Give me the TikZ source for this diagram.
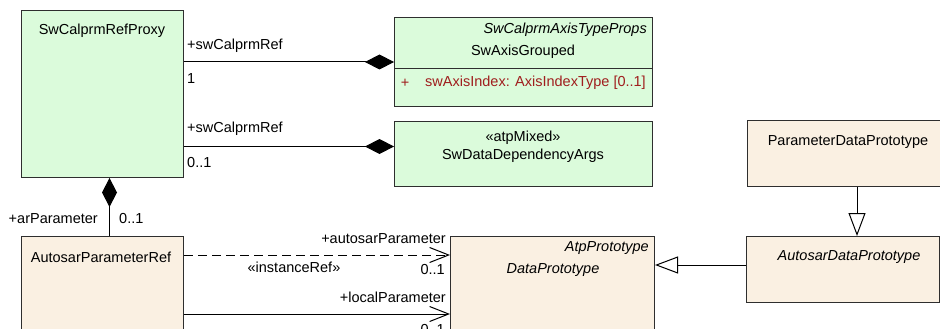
\documentclass[tikz,border=0pt]{standalone}
\usepackage{fontspec}
\setmainfont{Liberation Sans}
\usepackage{xcolor}
\definecolor{umlgreen}{HTML}{DBFBDB}
\definecolor{umlbeige}{HTML}{FAF0E2}
\definecolor{umlline}{HTML}{2E2E2E}
\definecolor{umlred}{HTML}{A01E1E}
\usepackage{tikz}
\usetikzlibrary{arrows.meta, positioning, calc}

\tikzset{
  umlbox/.style={rectangle, draw=umlline, line width=1pt, anchor=north west, inner sep=0pt},
  umltext/.style={font=\fontsize{14.5}{17}\selectfont, inner sep=0pt},
  umlitalic/.style={umltext, font=\fontsize{14.5}{17}\selectfont\itshape},
  comp/.style={line width=1pt, {Diamond[length=29pt,width=15pt]}-},
  assoc/.style={line width=1pt, -{Straight Barb[length=19pt,width=15pt,line width=1pt]}},
  gen/.style={line width=1pt, -{Triangle[open,fill=white,length=23pt,width=17pt,line width=1pt]}}
}

\begin{document}
\begin{tikzpicture}[x=1pt, y=-1pt]
\useasboundingbox (0,0) rectangle (940,329);
\clip (0,0) rectangle (940,329);
\fill[white] (0,0) rectangle (940,329);

% classes
\node[umlbox, fill=umlgreen, minimum width=162pt, minimum height=167pt] (proxy) at (21,10) {};
\node[umlbox, fill=umlgreen, minimum width=258pt, minimum height=89pt] (axis) at (394,17) {};
\node[umlbox, fill=umlgreen, minimum width=258pt, minimum height=65pt] (depargs) at (394,121) {};
\node[umlbox, fill=umlbeige, minimum width=162pt, minimum height=120pt] (paramref) at (21,236) {};
\node[umlbox, fill=umlbeige, minimum width=204pt, minimum height=120pt] (dataproto) at (450,236) {};
\node[umlbox, fill=umlbeige, minimum width=193pt, minimum height=66pt] (autoproto) at (746,236) {};
\node[umlbox, fill=umlbeige, minimum width=205pt, minimum height=66pt] (paramproto) at (747,120) {};
\draw[umlline, line width=1pt] ($(axis.north west)+(0,52)$) -- ($(axis.north east)+(0,52)$);

% class texts
\node[umltext] (proxyname) at (102,31) {SwCalprmRefProxy};
\node[umlitalic, anchor=east] (axisstereo) at (647,30) {SwCalprmAxisTypeProps};
\node[umltext] (axisname) at (523,52) {SwAxisGrouped};
\node[umltext, text=umlred] (axisplus) at (405,83) {+};
\node[umltext, anchor=west, text=umlred] (axisattr) at (425,83) {swAxisIndex: AxisIndexType [0..1]};
\node[umltext] (depstereo) at (523,138) {«atpMixed»};
\node[umltext] (depname) at (523,156) {SwDataDependencyArgs};
\node[umltext] (paramrefname) at (101,257) {AutosarParameterRef};
\node[umlitalic, anchor=east] (dpstereo) at (649,248) {AtpPrototype};
\node[umlitalic] (dpname) at (553,270) {DataPrototype};
\node[umlitalic] (adpname) at (849,257) {AutosarDataPrototype};
\node[umltext] (pdpname) at (848,142) {ParameterDataPrototype};

% connectors
\draw[comp] (axis.west) -- (proxy.east |- axis.west);
\draw[comp] ($(depargs.west)+(0,-7.5)$) -- (proxy.east |- {$(depargs.west)+(0,-7.5)$});
\draw[comp] ([xshift=7pt]proxy.south) -- ([xshift=7pt]paramref.north);
\draw[assoc, dashed, dash pattern=on 9pt off 5pt] ($(paramref.north east)+(0,19)$) -- ($(dataproto.north west)+(0,19)$);
\draw[assoc] ($(paramref.north east)+(0,78)$) -- ($(dataproto.north west)+(0,78)$);
\draw[gen] ($(autoproto.north west)+(0,29)$) -- ($(dataproto.north east)+(0,29)$);
\draw[gen] ([xshift=7pt]paramproto.south) -- ([xshift=7pt]paramproto.south |- autoproto.north);

% connector labels
\node[umltext, anchor=west] (role1) at (187,46) {+swCalprmRef};
\node[umltext, anchor=west] (mult1) at (187,79) {1};
\node[umltext, anchor=west] (role2) at (187,129) {+swCalprmRef};
\node[umltext, anchor=west] (mult2) at (187,163) {0..1};
\node[umltext, anchor=east] (role3) at (98,219) {+arParameter};
\node[umltext, anchor=west] (mult3) at (119,219) {0..1};
\node[umltext, anchor=east] (role4) at (446,239) {+autosarParameter};
\node[umltext] (stereo4) at (294,267) {«instanceRef»};
\node[umltext, anchor=east] (mult4) at (445,270) {0..1};
\node[umltext, anchor=east] (role5) at (446,297) {+localParameter};
\node[umltext, anchor=east] (mult5) at (445,330) {0..1};
\end{tikzpicture}
\end{document}
